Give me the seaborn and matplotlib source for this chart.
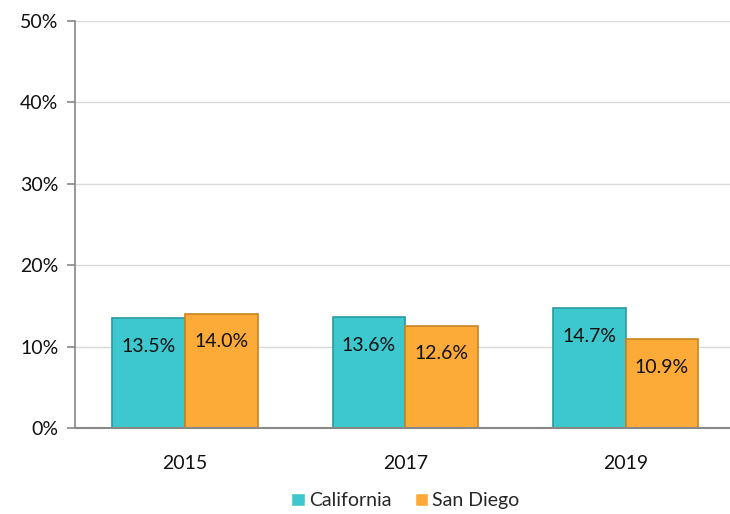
import numpy as np
import pandas as pd
import seaborn as sns
import matplotlib.pyplot as plt
from matplotlib.ticker import PercentFormatter

years = ["2015", "2017", "2019"]
california = [13.5, 13.6, 14.7]
san_diego = [14.0, 12.6, 10.9]
series = ["California", "San Diego"]

df = pd.DataFrame({
    "year": years * 2,
    "value": california + san_diego,
    "region": [series[0]] * 3 + [series[1]] * 3,
})

sns.set_theme(style="white")
plt.rcParams["font.family"] = ["Lato", "DejaVu Sans"]

colors = {"California": "#3cc8ce", "San Diego": "#fdab38"}
edges = {"California": "#2a9aa0", "San Diego": "#c88420"}

fig = plt.figure(figsize=(7.3, 5.14), dpi=100)
ax = fig.add_axes([0.1027, 0.167, 0.905, 0.792])

sns.barplot(data=df, x="year", y="value", hue="region", palette=colors,
            width=0.66, gap=0, saturation=1, ax=ax, legend=True)

for cont, name in zip(ax.containers, series):
    for bar in cont:
        bar.set_edgecolor(edges[name])
        bar.set_linewidth(1.2)
        h = bar.get_height()
        ax.annotate(f"{h:.1f}%", xy=(bar.get_x() + bar.get_width() / 2, h),
                    xytext=(0, -20), textcoords="offset points",
                    ha="center", va="center", fontsize=14, color="#111111")

ax.set_ylim(0, 50)
ax.set_xlim(-0.5, 2.5)
ax.set_yticks(range(0, 51, 10))
ax.yaxis.set_major_formatter(PercentFormatter(decimals=0))
ax.grid(axis="y", color="#d9d9d9", linewidth=1)
ax.set_axisbelow(True)
ax.set_xlabel("")
ax.set_ylabel("")

for s in ["top", "right"]:
    ax.spines[s].set_visible(False)
ax.spines["left"].set_color("#888888")
ax.spines["bottom"].set_color("#888888")
ax.spines["bottom"].set_linewidth(1.5)
ax.spines["left"].set_linewidth(1.2)

ax.tick_params(axis="y", left=True, length=6, width=1.2, color="#888888",
               labelsize=14, pad=6, labelcolor="#111111")
ax.tick_params(axis="x", bottom=False, labelsize=14, pad=13, labelcolor="#111111")

ax.legend(loc="upper center", bbox_to_anchor=(0.5, -0.138), ncol=2, frameon=False,
          fontsize=14, handlelength=0.7, handleheight=0.7, handletextpad=0.2,
          columnspacing=1.2, borderaxespad=0)

fig.savefig("out.png", dpi=100)
